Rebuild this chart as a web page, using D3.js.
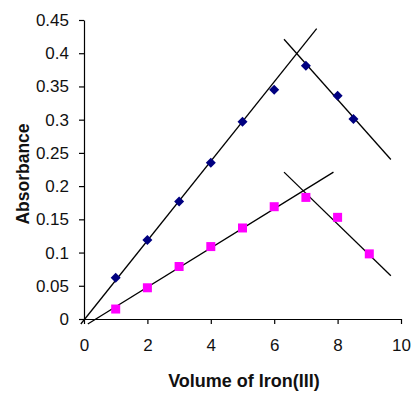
<!DOCTYPE html>
<html>
<head>
<meta charset="utf-8">
<script src="https://cdn.jsdelivr.net/npm/d3@7"></script>
<style>
  body { margin: 0; background: #fff; }
  svg { display: block; font-family: Arial, "Liberation Sans", sans-serif; }
</style>
</head>
<body>
<div id="chart"></div>
<script>
// series
var blueX = [1, 2, 3, 4, 5, 6, 7, 8, 8.5];
var blueY = [0.062, 0.119, 0.177, 0.235, 0.297, 0.345, 0.381, 0.336, 0.301];
var pinkX = [1, 2, 3, 4, 5, 6, 7, 8, 9];
var pinkY = [0.015, 0.047, 0.079, 0.109, 0.137, 0.169, 0.183, 0.153, 0.098];

// hand drawn trend lines (data units)
var blueUp = [[-0.1, -0.0075], [7.34, 0.437]];
var blueDown = [[6.31, 0.421], [9.68, 0.240]];
var pinkUp = [[0.12, -0.0075], [7.87, 0.221]];
var pinkDown = [[6.31, 0.221], [9.68, 0.065]];

var xTicks = [0, 2, 4, 6, 8, 10];
var yTicks = [0, 0.05, 0.1, 0.15, 0.2, 0.25, 0.3, 0.35, 0.4, 0.45];

var W = 414, H = 394;

var x = d3.scaleLinear().domain([0, 10]).range([84, 401]);
var y = d3.scaleLinear().domain([0, 0.45]).range([319, 20]);

var svg = d3.select('#chart').append('svg')
  .attr('width', W)
  .attr('height', H);

var gx = svg.append('g')
  .attr('transform', 'translate(0,' + y(0) + ')')
  .call(d3.axisBottom(x).tickValues(xTicks).tickSize(5).tickSizeOuter(0).tickPadding(15)
    .tickFormat(d3.format('d')));

var gy = svg.append('g')
  .attr('transform', 'translate(' + x(0) + ',0)')
  .call(d3.axisLeft(y).tickValues(yTicks).tickSize(5).tickSizeOuter(0).tickPadding(10)
    .tickFormat(function(d) { return +d.toFixed(2); }));

svg.selectAll('.domain, .tick line').attr('stroke', '#000').attr('stroke-width', 1.2);
svg.selectAll('.tick text').attr('fill', '#111').style('font-size', '17px');

// trend lines
var line = d3.line().x(function(d) { return x(d[0]); }).y(function(d) { return y(d[1]); });
[blueUp, blueDown, pinkUp, pinkDown].forEach(function(seg) {
  svg.append('path')
    .attr('d', line(seg))
    .attr('fill', 'none')
    .attr('stroke', '#000')
    .attr('stroke-width', 1.3);
});

// blue diamonds
var blue = blueX.map(function(v, i) { return [v, blueY[i]]; });
svg.append('g').selectAll('path')
  .data(blue)
  .join('path')
  .attr('d', d3.symbol(d3.symbolSquare, 50))
  .attr('transform', function(d) { return 'translate(' + x(d[0]) + ',' + y(d[1]) + ') rotate(45)'; })
  .attr('fill', '#000080');

// pink squares
var pink = pinkX.map(function(v, i) { return [v, pinkY[i]]; });
svg.append('g').selectAll('rect')
  .data(pink)
  .join('rect')
  .attr('x', function(d) { return x(d[0]) - 4.5; })
  .attr('y', function(d) { return y(d[1]) - 4.5; })
  .attr('width', 9)
  .attr('height', 9)
  .attr('fill', '#ff00ff');

// axis titles
svg.append('text')
  .attr('x', 244)
  .attr('y', 387)
  .attr('text-anchor', 'middle')
  .style('font-size', '18px')
  .style('font-weight', 'bold')
  .attr('fill', '#111')
  .text('Volume of Iron(III)');

svg.append('text')
  .attr('transform', 'translate(29,174) rotate(-90)')
  .attr('text-anchor', 'middle')
  .style('font-size', '17.5px')
  .style('font-weight', 'bold')
  .attr('fill', '#111')
  .text('Absorbance');
</script>
</body>
</html>
